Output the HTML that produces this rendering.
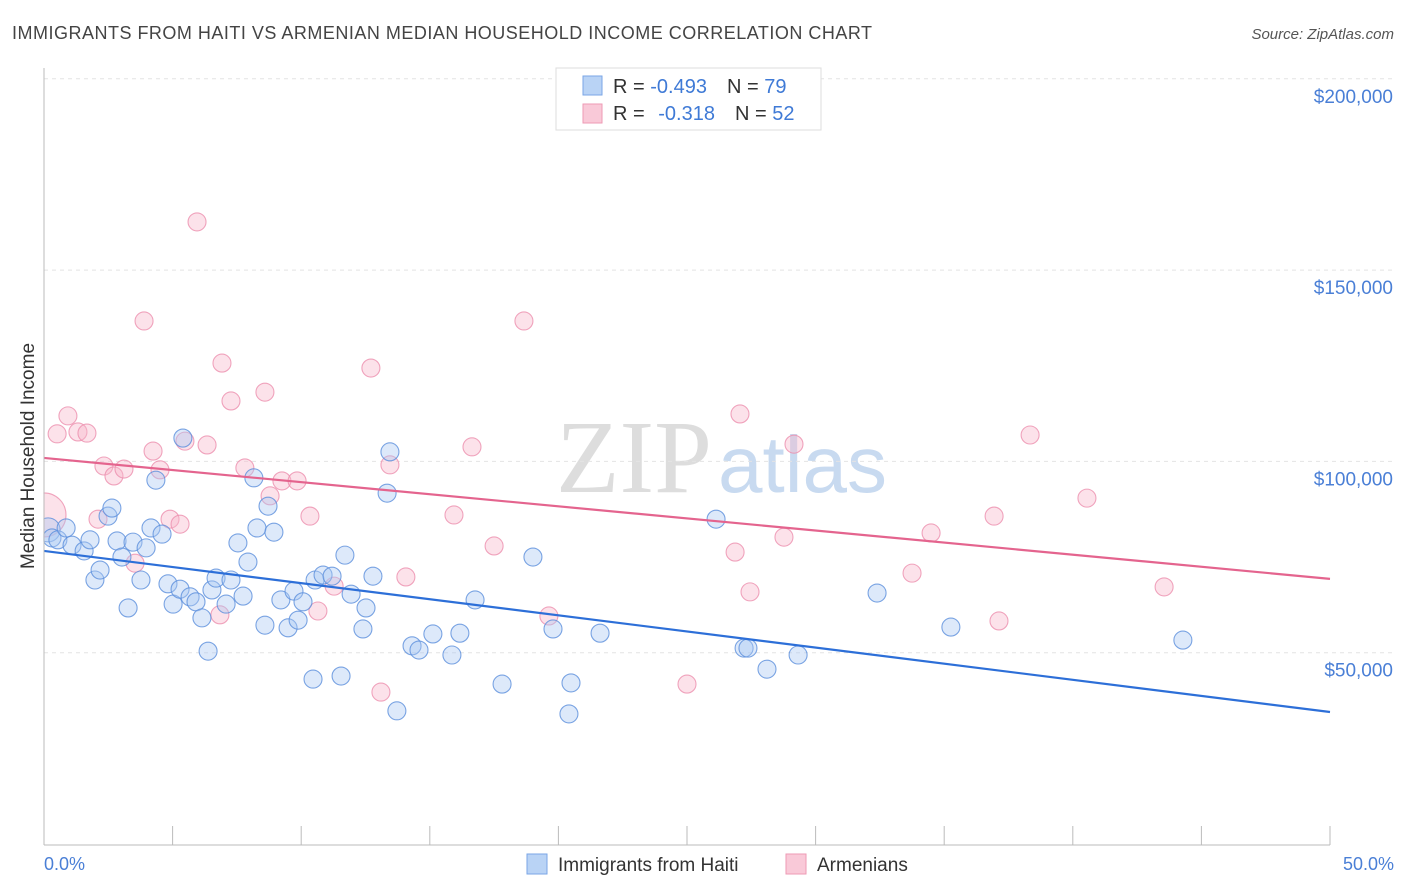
<!DOCTYPE html>
<html><head><meta charset="utf-8"><style>
body{margin:0;background:#fff;font-family:"Liberation Sans",sans-serif}
svg{display:block}
</style></head><body>
<svg id="chart" width="1406" height="892">
<text x="12" y="39" font-size="18" fill="#444" textLength="860">IMMIGRANTS FROM HAITI VS ARMENIAN MEDIAN HOUSEHOLD INCOME CORRELATION CHART</text>
<text x="1394" y="39" font-size="15" fill="#555" font-style="italic" text-anchor="end">Source: ZipAtlas.com</text>
<text x="712" y="492" font-size="104" fill="#ddd" text-anchor="end" font-family="Liberation Serif">ZIP</text>
<text x="718" y="492" font-size="80" fill="#c8daf0">atlas</text>
<g id="grid"></g><g id="marks"></g>
<rect x="0" y="60" width="43.4" height="790" fill="#fff"/>
<g id="axes"></g>
<text transform="translate(34,456) rotate(-90)" font-size="19" fill="#333" text-anchor="middle">Median Household Income</text>
<text x="44" y="870" font-size="18" fill="#4a7fd6">0.0%</text>
<text x="1394" y="870" font-size="18" fill="#4a7fd6" text-anchor="end">50.0%</text>
<g>
<rect x="556" y="68" width="265" height="62" fill="#fff" stroke="#ddd"/>
<rect x="583" y="76" width="19" height="19" fill="#b9d3f5" stroke="#7aa6e6"/>
<rect x="583" y="104" width="19" height="19" fill="#f9c9d8" stroke="#ee9ab4"/>
<text x="613" y="93" font-size="20" fill="#333">R = <tspan fill="#3f7ad6">-0.493</tspan><tspan dx="20">N = </tspan><tspan fill="#3f7ad6">79</tspan></text>
<text x="613" y="120" font-size="20" fill="#333">R = <tspan dx="8" fill="#3f7ad6">-0.318</tspan><tspan dx="20">N = </tspan><tspan fill="#3f7ad6">52</tspan></text>
</g>
<g>
<rect x="527" y="854" width="20" height="20" fill="#b9d3f5" stroke="#7aa6e6"/>
<text x="558" y="871" font-size="19" fill="#333">Immigrants from Haiti</text>
<rect x="786" y="854" width="20" height="20" fill="#f9c9d8" stroke="#ee9ab4"/>
<text x="817" y="871" font-size="19" fill="#333">Armenians</text>
</g>
</svg>
<script>
const yTicks=[50,100,150,200];
const yTickLabels=["$50,000","$100,000","$150,000","$200,000"];
const xTicks=[0,5,10,15,20,25,30,35,40,45,50];
const haitiX=[0.16,0.31,0.54,0.86,1.09,1.56,1.79,1.98,2.18,2.49,2.64,2.84,3.03,3.27,3.46,3.77,3.97,4.16,4.35,4.59,4.82,5.02,5.29,5.40,5.68,5.91,6.14,6.38,6.53,6.69,7.08,7.27,7.54,7.74,7.93,8.16,8.28,8.59,8.71,8.94,9.21,9.49,9.72,9.88,10.07,10.46,10.54,10.85,11.20,11.55,11.70,11.94,12.40,12.52,12.79,13.34,13.45,13.72,14.31,14.58,15.12,15.86,16.17,16.76,17.81,19.01,19.79,20.41,20.49,21.62,26.13,27.22,27.37,28.11,29.32,32.39,35.26,44.28];
const haitiY=[82.1,80.0,79.5,82.6,78.1,76.6,79.5,69.0,71.6,85.7,87.8,79.2,75.0,61.7,78.9,69.0,77.4,82.6,95.1,81.0,68.0,62.7,66.6,106.1,64.6,63.3,59.1,50.4,66.4,69.5,62.7,69.0,78.7,64.8,73.7,95.7,82.6,57.2,88.3,81.5,63.8,56.5,66.1,58.5,63.3,43.1,69.0,70.3,70.0,43.9,75.5,65.3,56.2,61.7,70.0,91.7,102.5,34.8,51.8,50.7,54.9,49.4,55.1,63.8,41.8,75.0,56.2,34.0,42.1,55.1,84.9,51.2,51.2,45.7,49.4,65.6,56.7,53.3];
const armX=[0.0,0.51,0.93,1.32,1.67,2.10,2.33,2.72,3.11,3.54,3.89,4.24,4.51,4.90,5.29,5.48,5.95,6.34,6.84,6.92,7.27,7.81,8.59,8.79,9.25,9.84,10.34,10.65,11.28,12.71,13.10,13.45,14.07,15.94,16.64,17.50,18.66,19.63,25.0,26.87,27.06,27.45,28.77,29.16,33.75,34.49,36.94,37.13,38.34,40.55,43.55];
const armY=[86.0,107.2,111.9,107.7,107.4,84.9,98.8,96.2,98.0,73.4,136.7,102.7,97.8,84.9,83.6,105.3,162.6,104.3,59.9,125.7,115.8,98.3,118.1,91.0,94.9,94.9,85.7,60.9,67.4,124.4,39.7,99.1,69.8,86.0,103.8,77.9,136.7,59.6,41.8,76.3,112.4,65.9,80.2,104.5,70.8,81.3,85.7,58.3,106.9,90.4,67.2];
const haitiTrend=[76.6,34.5];
const armTrend=[100.9,69.3];
const NS="http://www.w3.org/2000/svg";
const X=v=>44+v*25.72, Y=v=>844-v*3.826;
function mk(p,t,a){const e=document.createElementNS(NS,t);for(const k in a)e.setAttribute(k,a[k]);document.getElementById(p).appendChild(e);return e;}
yTicks.forEach((t,i)=>{
 const g=mk('grid','line',{x1:44,x2:1394,y1:Y(t),y2:Y(t),stroke:'#e4e4e4','stroke-dasharray':'4,4'});
 
 
 const l=mk('grid','text',{x:1393,y:Y(t)+24,'font-size':19,fill:'#4a7fd6','text-anchor':'end'});
 l.textContent=yTickLabels[i];
 
 
});
const ya=mk('axes','line',{x1:44,x2:44,y1:68,y2:845,stroke:'#bbb'});


const xa=mk('axes','line',{x1:44,x2:1330,y1:845,y2:845,stroke:'#bbb'});


xTicks.forEach(t=>{
 const k=mk('axes','line',{x1:X(t),x2:X(t),y1:826,y2:845,stroke:'#bbb'});
 
 
});
function pts(xs,ys,fill,stroke,name){xs.forEach((x,i)=>{
 const r=(i===0&&name==='armenian-point')?22:(i===0?12:9);
 const c=mk('marks','circle',{cx:X(x),cy:Y(ys[i]),r:r,fill:fill,'fill-opacity':0.4,stroke:stroke,'stroke-width':1.1,'stroke-opacity':0.8});
 
 
});}
pts(armX,armY,'#f7b6ca','#ec8fae','armenian-point');
pts(haitiX,haitiY,'#a9c8f2','#5b8fdc','haiti-point');
const t1=mk('marks','line',{x1:X(0),y1:Y(haitiTrend[0]),x2:X(50),y2:Y(haitiTrend[1]),stroke:'#2d6fd8','stroke-width':2.2});


const t2=mk('marks','line',{x1:X(0),y1:Y(armTrend[0]),x2:X(50),y2:Y(armTrend[1]),stroke:'#e4648e','stroke-width':2.2});


</script>
</body></html>
